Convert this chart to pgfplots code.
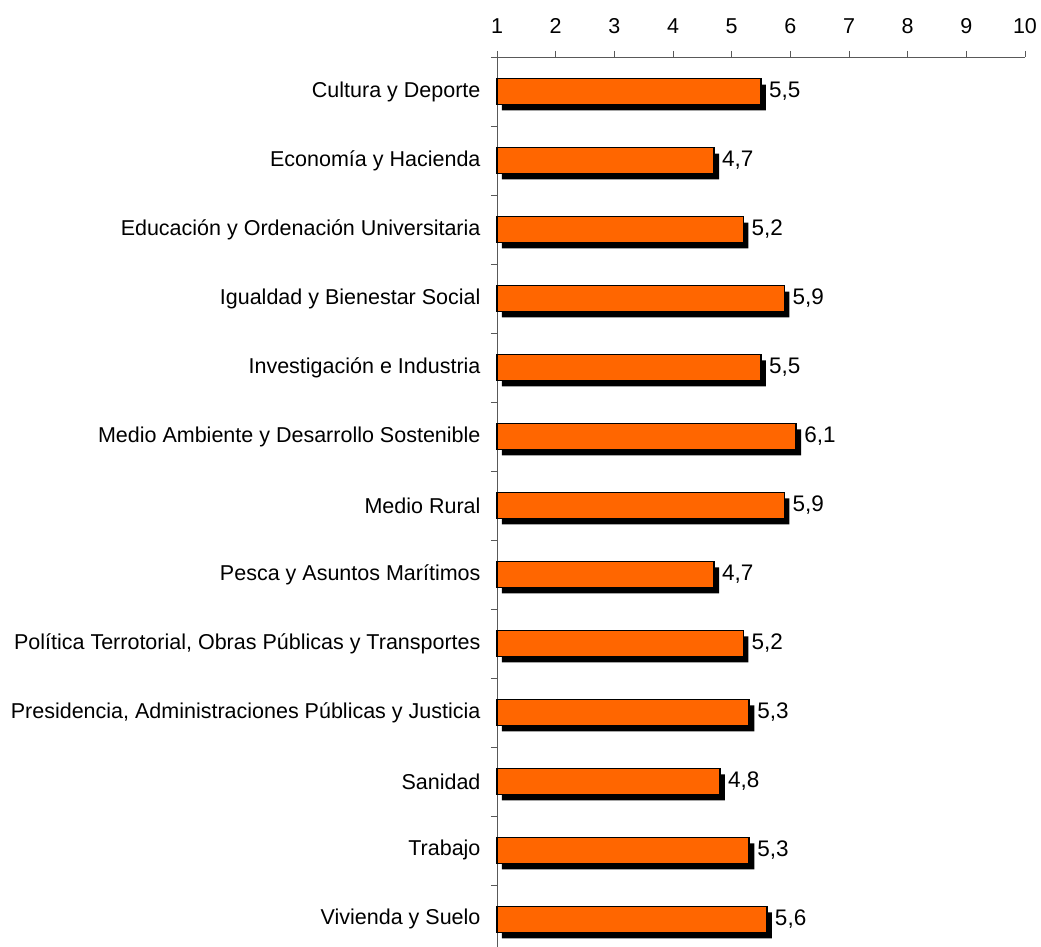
\documentclass[border=0pt]{standalone}
\usepackage{pgfplots}
\usepackage{pgfplotstable}
\pgfplotsset{compat=1.18}
\usetikzlibrary{calc}
\usepackage{fontspec}
\setmainfont{Liberation Sans}
\definecolor{barorange}{HTML}{FF6600}
\pgfplotstableread[col sep=semicolon]{
cat;v
Cultura y Deporte;5.5
Economía y Hacienda;4.7
Educación y Ordenación Universitaria;5.2
Igualdad y Bienestar Social;5.9
Investigación e Industria;5.5
Medio Ambiente y Desarrollo Sostenible;6.1
Medio Rural;5.9
Pesca y Asuntos Marítimos;4.7
Política Terrotorial, Obras Públicas y Transportes;5.2
Presidencia, Administraciones Públicas y Justicia;5.3
Sanidad;4.8
Trabajo;5.3
Vivienda y Suelo;5.6
}\datatable
\begin{document}
\begin{tikzpicture}
\begin{axis}[
  name=ax,
  scale only axis,
  width=528pt, height=890pt,
  y dir=reverse,
  xmin=0, xmax=9,
  ymin=-0.5, ymax=12.4,
  axis x line*=top,
  axis y line*=left,
  axis line style={black!65, line width=0.8pt},
  xtick={0,...,9},
  xticklabels={1,2,3,4,5,6,7,8,9,10},
  ytick={0,...,12},
  yticklabels from table={\datatable}{cat},
  ytick style={draw=none},
  extra y ticks={-0.5,0.5,...,11.5},
  extra y tick labels={},
  extra y tick style={ytick style={draw=black!65, line width=0.8pt}},
  major tick length=6pt,
  tick align=outside,
  xtick style={black!65, line width=0.8pt},
  xticklabel style={font=\fontsize{21.5}{23}\selectfont, yshift=14pt},
  yticklabel style={font=\fontsize{21.5}{23}\selectfont, xshift=-7pt},
  /pgf/number format/assume math mode=true,
  clip=false,
]
\addplot[xbar, bar width=0.376, fill=black, draw=none, xshift=5pt, yshift=-6pt]
  table[x expr=\thisrow{v}-1, y expr=\coordindex] {\datatable};
\addplot[xbar, bar width=0.376, fill=barorange, draw=black, line width=1.6pt,
  point meta=explicit,
  nodes near coords={\pgfmathprintnumber[fixed, fixed zerofill, precision=1, use comma]{\pgfplotspointmeta}},
  nodes near coords style={anchor=west, black, font=\fontsize{22.5}{24}\selectfont, xshift=4pt, /pgf/number format/assume math mode=true}]
  table[x expr=\thisrow{v}-1, y expr=\coordindex, meta=v] {\datatable};
\end{axis}
\pgfresetboundingbox
\path[use as bounding box] ($(ax.south west)+(-497pt,0)$) rectangle ($(ax.south west)+(544pt,947pt)$);
\end{tikzpicture}
\end{document}
